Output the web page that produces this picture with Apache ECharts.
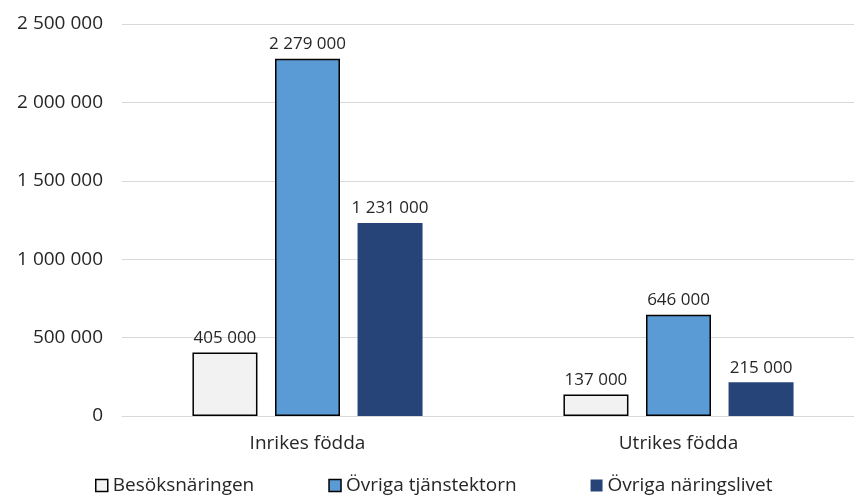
<!DOCTYPE html>
<html>
<head>
<meta charset="utf-8">
<script src="https://cdn.jsdelivr.net/npm/echarts@6/dist/echarts.min.js"></script>
<style>
  html, body { margin: 0; padding: 0; background: #fff; overflow: hidden; }
  #chart { width: 864px; height: 500px; }
</style>
</head>
<body>
<div id="chart"></div>
<script>
var categories = ['Inrikes födda', 'Utrikes födda'];
var seriesNames = ['Besöksnäringen', 'Övriga tjänstektorn', 'Övriga näringslivet'];
var besok = [405000, 137000];
var tjanst = [2279000, 646000];
var naring = [1231000, 215000];

var font = '"Open Sans", "Noto Sans", sans-serif';

function fmt(v) {
    return String(v).replace(/\B(?=(\d{3})+(?!\d))/g, ' ');
}

var chart = echarts.init(document.getElementById('chart'));

function makeSeries(name, data, color, border) {
    return {
        name: name,
        type: 'bar',
        data: data,
        barWidth: 65,
        barGap: '27%',
        itemStyle: {
            color: color,
            borderColor: border ? '#000' : color,
            borderWidth: border ? 1.5 : 0
        },
        label: {
            show: true,
            position: 'top',
            distance: 6,
            color: '#262626',
            fontFamily: font,
            fontSize: 17,
            formatter: function (p) { return fmt(p.value); }
        }
    };
}

chart.setOption({
    backgroundColor: '#fff',
    animation: false,
    grid: {
        left: 122,
        right: 0,
        top: 24,
        bottom: 84
    },
    legend: {
        bottom: 0,
        left: 90,
        itemGap: 74,
        itemWidth: 12,
        itemHeight: 12,
        icon: 'rect',
        textStyle: {
            color: '#262626',
            fontFamily: font,
            fontSize: 19
        },
        data: [
            { name: seriesNames[0], itemStyle: { borderColor: '#000', borderWidth: 1.5 } },
            { name: seriesNames[1], itemStyle: { borderColor: '#000', borderWidth: 1.5 } },
            { name: seriesNames[2] }
        ]
    },
    xAxis: {
        type: 'category',
        data: categories,
        axisLine: { lineStyle: { color: '#d9d9d9', width: 1 } },
        axisTick: { show: false },
        axisLabel: {
            margin: 18,
            color: '#262626',
            fontFamily: font,
            fontSize: 19
        }
    },
    yAxis: {
        type: 'value',
        min: 0,
        max: 2500000,
        interval: 500000,
        axisLine: { show: false },
        axisTick: { show: false },
        splitLine: { lineStyle: { color: '#d9d9d9', width: 1 } },
        axisLabel: {
            margin: 19,
            color: '#262626',
            fontFamily: font,
            fontSize: 19,
            formatter: function (v) { return fmt(v); }
        }
    },
    series: [
        makeSeries(seriesNames[0], besok, '#f2f2f2', true),
        makeSeries(seriesNames[1], tjanst, '#5b9bd5', true),
        makeSeries(seriesNames[2], naring, '#264478', false)
    ]
});
</script>
</body>
</html>
